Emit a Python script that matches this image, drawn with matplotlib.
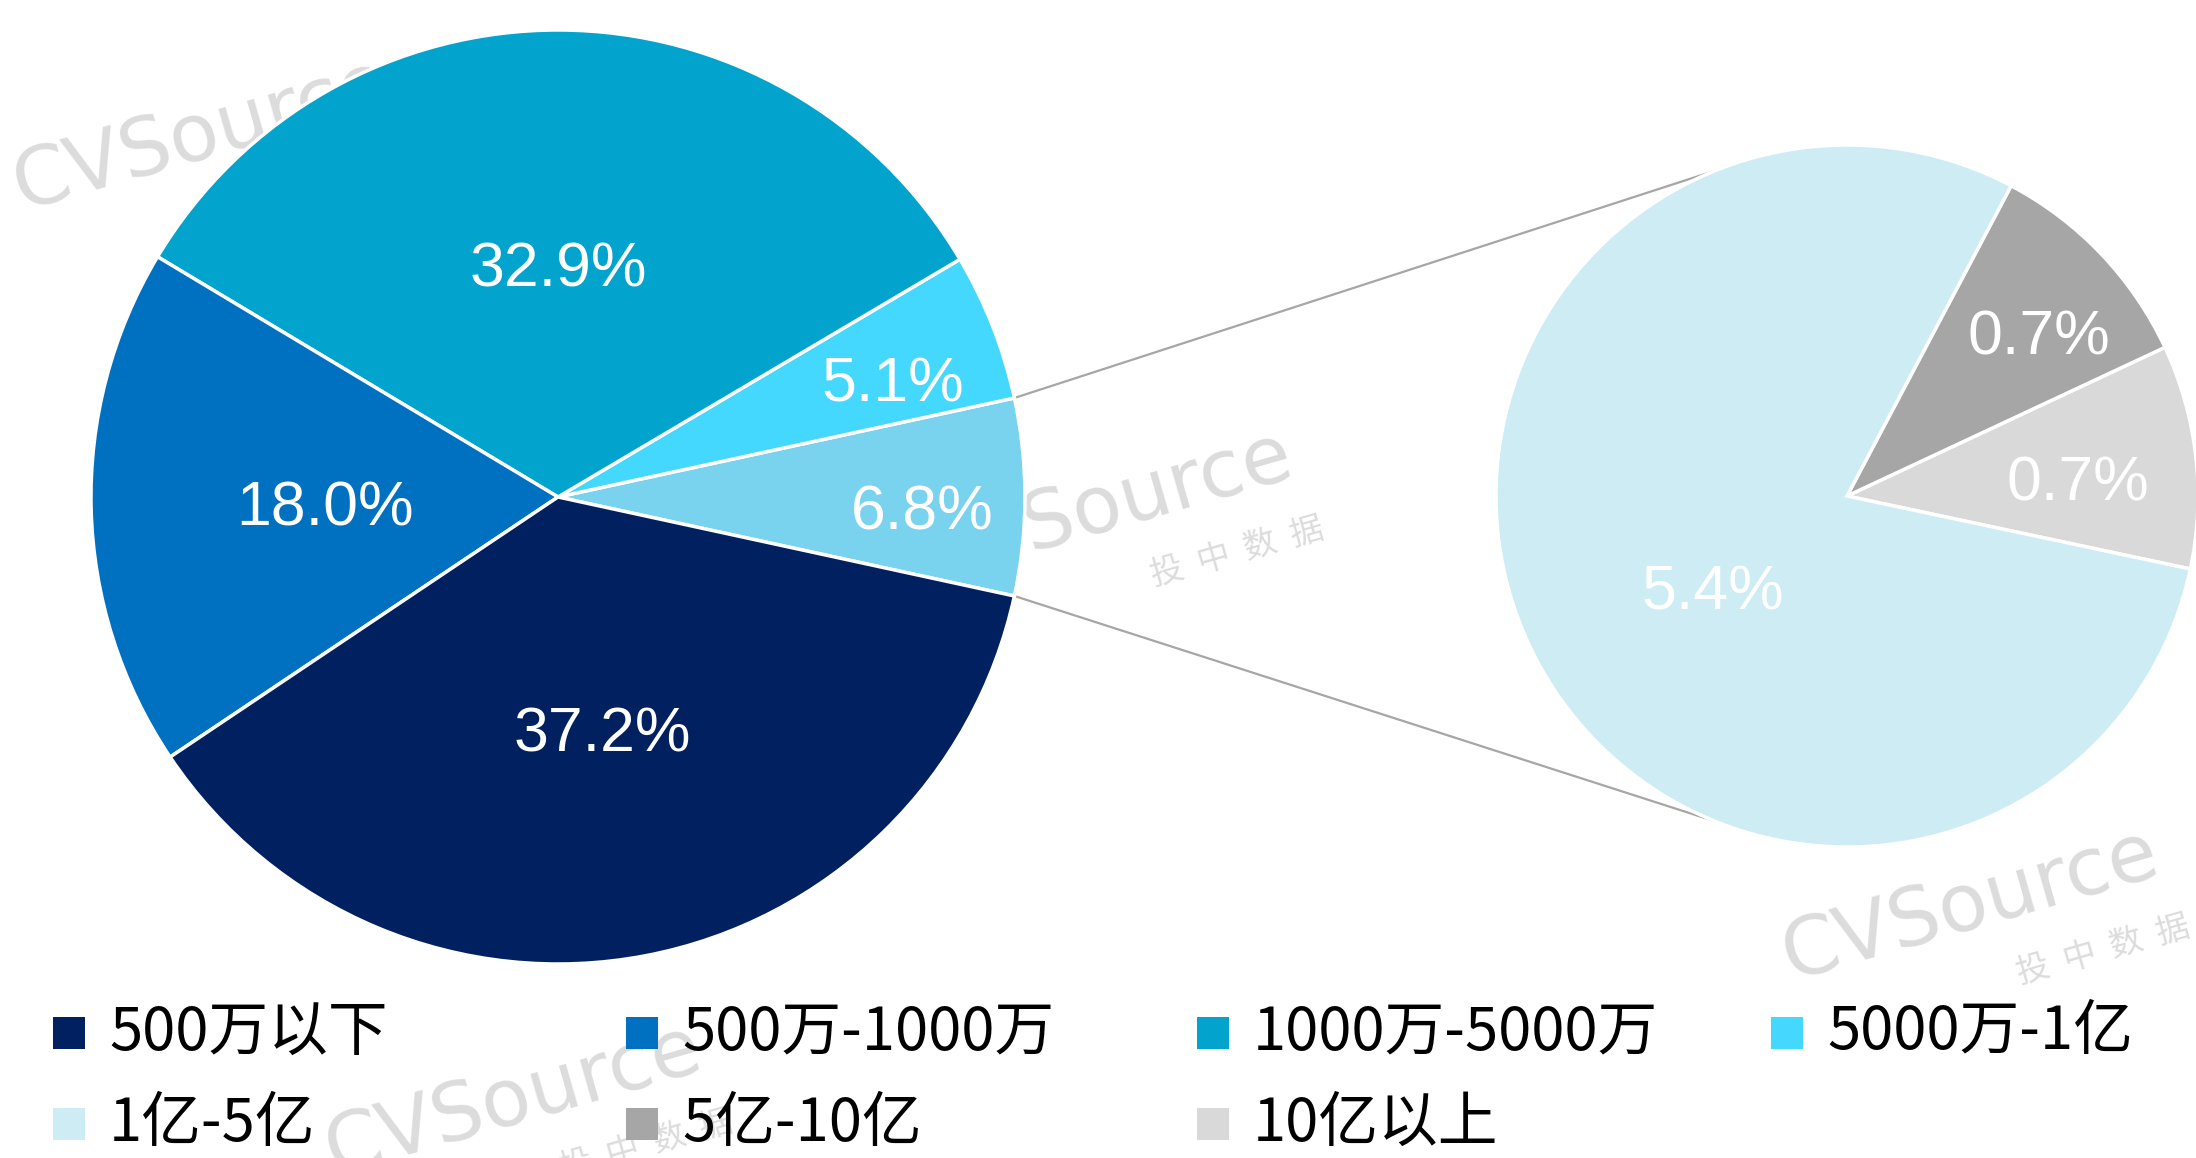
import matplotlib.pyplot as plt
from matplotlib.patches import Rectangle
import numpy as np

plt.rcParams['font.family'] = ['Liberation Sans', 'Noto Sans CJK SC', 'DejaVu Sans']

# data
main_labels = ['其他', '5000万-1亿', '1000万-5000万', '500万-1000万', '500万以下']
main_values = [6.8, 5.1, 32.9, 18.0, 37.2]
main_colors = ['#7AD3EE', '#45D8FF', '#02A3CD', '#0070C0', '#002060']

sub_labels = ['10亿以上', '5亿-10亿', '1亿-5亿']
sub_values = [0.7, 0.7, 5.4]
sub_colors = ['#D9D9D9', '#A6A6A6', '#CDECF3']

legend_labels = ['500万以下', '500万-1000万', '1000万-5000万', '5000万-1亿',
                 '1亿-5亿', '5亿-10亿', '10亿以上']
legend_colors = ['#002060', '#0070C0', '#02A3CD', '#45D8FF',
                 '#CDECF3', '#A6A6A6', '#D9D9D9']

W, H = 2196, 1158
fig = plt.figure(figsize=(W / 100, H / 100), dpi=100)
ax = fig.add_axes([0, 0, 1, 1])
ax.set_xlim(0, W)
ax.set_ylim(0, H)
ax.set_aspect('equal')
ax.axis('off')

# watermarks (behind everything)
wm_color = '#DCDCDC'
for x, y in [(21, 210), (924, 582), (1790, 980), (333, 1175)]:
    ax.text(x, H - y, 'CVSource', fontsize=58, color=wm_color, rotation=16,
            rotation_mode='anchor', ha='left', va='baseline', zorder=0,
            family='DejaVu Sans')
    ax.text(x + 230, H - y - 4, '投  中  数  据', fontsize=24, color=wm_color,
            rotation=16, rotation_mode='anchor', ha='left', va='baseline',
            zorder=0, family='Noto Sans CJK SC')


def put_labels(wedges, values, center, r, dists, shifts):
    for w, v, d, s in zip(wedges, values, dists, shifts):
        ang = np.deg2rad((w.theta1 + w.theta2) / 2 + s)
        ax.text(center[0] + d * r * np.cos(ang), center[1] + d * r * np.sin(ang),
                f'{v:.1f}%', color='white', fontsize=45, ha='center',
                va='center_baseline', zorder=4)


# main pie
c1 = (558, H - 497)
r1 = 467
start1 = -main_values[0] * 3.6 / 2
w1, _ = ax.pie(main_values, colors=main_colors, startangle=start1, radius=r1,
               center=c1, frame=True,
               wedgeprops=dict(edgecolor='white', linewidth=2.5))
put_labels(w1, main_values, c1, r1, [0.78, 0.76, 0.5, 0.5, 0.505],
           [-1.5, -2.0, 0, 0, 0])

# sub pie
c2 = (1847, H - 496)
r2 = 351
w2, _ = ax.pie(sub_values, colors=sub_colors, startangle=-12, radius=r2,
               center=c2, frame=True,
               wedgeprops=dict(edgecolor='white', linewidth=2.5))
put_labels(w2, sub_values, c2, r2, [0.66, 0.72, 0.46], [-2, -3, 9])

ax.set_xlim(0, W)
ax.set_ylim(0, H)
ax.axis('off')

# connector lines
other = w1[0]
for t1, t2 in [(other.theta2, 112), (other.theta1, -112)]:
    a1, a2 = np.deg2rad(t1), np.deg2rad(t2)
    ax.plot([c1[0] + r1 * np.cos(a1), c2[0] + r2 * np.cos(a2)],
            [c1[1] + r1 * np.sin(a1), c2[1] + r2 * np.sin(a2)],
            color='#A6A6A6', lw=1.6, zorder=0.5)

# legend
col_x = [53, 626, 1197, 1771]
row_y = [1033, 1124]
sq = 32
for i, (lab, col) in enumerate(zip(legend_labels, legend_colors)):
    x = col_x[i % 4]
    y = H - row_y[i // 4]
    ax.add_patch(Rectangle((x, y - sq / 2), sq, sq, facecolor=col,
                           edgecolor='none', zorder=3))
    ax.text(x + 56, y, lab, fontsize=43, color='black', ha='left',
            va='center', family=['Noto Sans CJK SC', 'DejaVu Sans'], zorder=3)

fig.savefig('out.png', dpi=100)
